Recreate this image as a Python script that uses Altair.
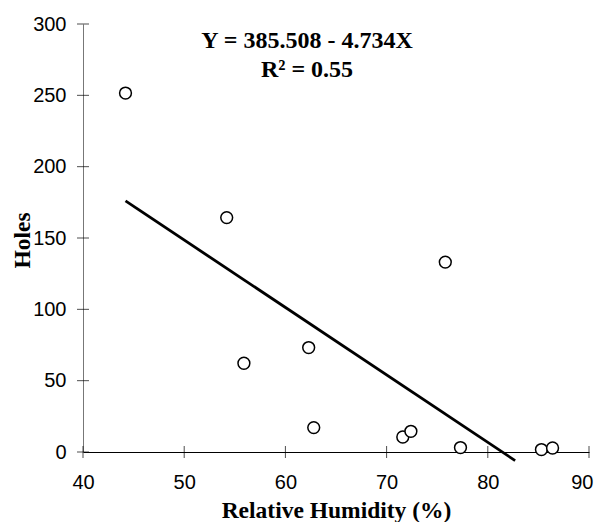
import altair as alt
import pandas as pd

# Observed points
humidity = [44.2, 54.2, 55.9, 62.3, 62.8, 71.6, 72.4, 75.8, 77.3, 85.3, 86.4]
holes = [251.6, 164.3, 62.2, 73.2, 17.1, 10.5, 14.5, 133.1, 3.1, 1.7, 2.8]

# Regression line endpoints
fit_x = [44.2, 82.7]
fit_y = [176.0, -6.0]

x_ticks = [40, 50, 60, 70, 80, 90]
y_ticks = [0, 50, 100, 150, 200, 250, 300]

equation_lines = ["Y = 385.508 - 4.734X", "R² = 0.55"]

pts = pd.DataFrame({"x": humidity, "y": holes})
fit = pd.DataFrame({"x": fit_x, "y": fit_y})
xt = pd.DataFrame({"x": x_ticks, "y": [0] * len(x_ticks)})
yt = pd.DataFrame({"y": y_ticks, "x": [40] * len(y_ticks)})

xscale = alt.Scale(domain=[40, 90], nice=False, zero=False)
yscale = alt.Scale(domain=[0, 300], nice=False, zero=False)

last_x = x_ticks[-1]
xaxis = alt.Axis(values=x_ticks, ticks=False, grid=False, domainColor="black",
                 labelPadding=20, labelFlush=False, format="d",
                 labelAlign={"condition": {"test": f"datum.value == {last_x}", "value": "right"},
                             "value": "center"},
                 labelOffset={"condition": {"test": f"datum.value == {last_x}", "value": 4},
                              "value": 0},
                 titleX=253, titleY=65, titleBaseline="alphabetic", titleAlign="center")
yaxis = alt.Axis(values=y_ticks, ticks=False, grid=False, domainColor="#777777",
                 labelPadding=17, labelFlush=False, format="d",
                 titleX=-54, titleY=216, titleBaseline="alphabetic", titleAlign="center",
                 titleAngle=270)

points = alt.Chart(pts).mark_point(shape="circle", filled=False, fill="white",
                                   stroke="black", strokeWidth=1.5, size=140, opacity=1).encode(
    x=alt.X("x:Q", scale=xscale, axis=xaxis, title="Relative Humidity (%)"),
    y=alt.Y("y:Q", scale=yscale, axis=yaxis, title="Holes"),
)

line = alt.Chart(fit).mark_line(color="black", strokeWidth=2.8, clip=False).encode(
    x=alt.X("x:Q", scale=xscale),
    y=alt.Y("y:Q", scale=yscale),
)

xtick_marks = alt.Chart(xt).mark_tick(orient="vertical", size=12, thickness=1, color="black").encode(
    x=alt.X("x:Q", scale=xscale),
    y=alt.Y("y:Q", scale=yscale),
)

ytick_marks = alt.Chart(yt).mark_tick(orient="horizontal", size=12, thickness=1, color="black").encode(
    x=alt.X("x:Q", scale=xscale),
    y=alt.Y("y:Q", scale=yscale),
)

eq = alt.Chart(pd.DataFrame({"t": [equation_lines]})).mark_text(
    font="Liberation Serif", fontWeight="bold", fontSize=24, lineHeight=28.5,
    align="center", baseline="alphabetic", color="black",
).encode(
    x=alt.value(224), y=alt.value(24), text="t"
)

chart = alt.layer(line, xtick_marks, ytick_marks, points, eq).properties(
    width=506, height=428,
    autosize=alt.AutoSizeParams(type="none"),
    padding={"left": 75, "top": 16, "right": 5, "bottom": 70},
).configure_view(stroke=None).configure_axis(
    labelFont="Liberation Sans", labelFontSize=20, labelColor="black",
    titleFont="Liberation Serif", titleFontWeight="bold", titleFontSize=23.5, titleColor="black",
)

chart.save("out.html", embed_options={"renderer": "svg", "actions": False})
